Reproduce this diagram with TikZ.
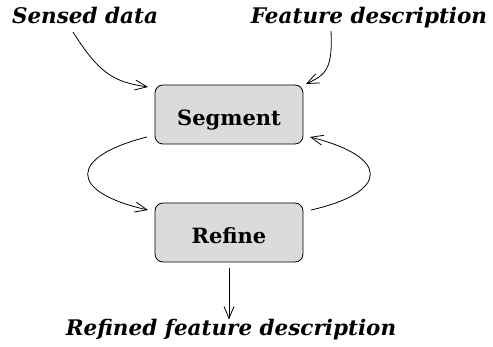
\documentclass[tikz,border=0pt]{standalone}
\usepackage{fontspec}
\setmainfont{DejaVu Serif}
\usetikzlibrary{arrows.meta}
\begin{document}
\begin{tikzpicture}[x=1pt,y=-1pt,
  proc/.style={draw, line width=0.8pt, fill=gray!28, rounded corners=8pt, minimum width=148pt, minimum height=59pt, text height=22pt, text depth=0pt, font=\fontsize{21}{24}\selectfont\bfseries},
  lbl/.style={font=\fontsize{21.5}{24}\selectfont\bfseries\itshape, inner sep=0pt, anchor=base},
  conn/.style={line width=0.8pt, -{Straight Barb[length=12pt,width=10pt,line width=0.8pt]}}]
\useasboundingbox (0,0) rectangle (493,347);
\node[proc] (seg) at (229,114.5) {Segment};
\node[proc] (ref) at (229,232.5) {Refine};
\node[lbl] (sd) at (85,24) {Sensed data};
\node[lbl] (fd) at (369,24) {Feature description};
\node[lbl] (rfd) at (231,336) {Refined feature description};
\coordinate (sdS) at (73,32);
\coordinate (fdS) at (331,31);
\coordinate (l1) at (147,137);
\coordinate (l2) at (148,210);
\coordinate (r1) at (311,210);
\coordinate (r2) at (310,137);
\coordinate (b1) at (229,268);
\coordinate (sdE) at (148,87);
\coordinate (fdE) at (306,84);
\draw[conn] (sdS) .. controls (100,75) and (115,82) .. (sdE);
\draw[conn] (fdS) .. controls (333,70) and (325,75) .. (fdE);
\draw[conn] (l1) .. controls (68,157) and (68,192) .. (l2);
\draw[conn] (r1) .. controls (390,192) and (390,157) .. (r2);
\draw[conn] (b1) -- (b1 |- rfd.north);
\end{tikzpicture}
\end{document}
